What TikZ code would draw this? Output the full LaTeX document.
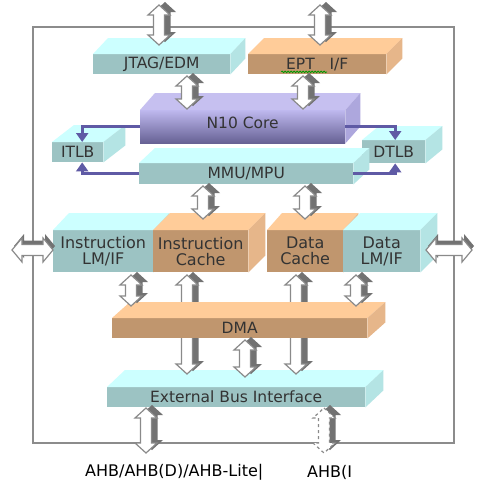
\documentclass[tikz,border=0pt]{standalone}
\usepackage{fontspec}
\setmainfont{DejaVu Sans}
\usetikzlibrary{arrows.meta,decorations.pathmorphing}
\definecolor{cyanF}{HTML}{9CC3C3}
\definecolor{cyanT}{HTML}{CCFFFF}
\definecolor{cyanS}{HTML}{B4E4E4}
\definecolor{orF}{HTML}{C0966E}
\definecolor{orT}{HTML}{FFCC99}
\definecolor{orS}{HTML}{E6B68A}
\definecolor{coreT}{HTML}{C6C0F0}
\definecolor{coreS}{HTML}{ADA7DD}
\definecolor{coreA}{HTML}{BEB8EE}
\definecolor{coreB}{HTML}{666194}
\definecolor{frameC}{HTML}{8C8C8C}
\definecolor{purpC}{HTML}{5F5AA5}
\definecolor{txtC}{HTML}{333333}
\definecolor{arrOut}{HTML}{8A8A8A}
\definecolor{arrSh}{HTML}{727272}
\newcommand\faces[5]{%
  \fill[#4] (#1.north west) -- ++(#2,-#3) -- ([shift={(#2,-#3)}]#1.north east) -- (#1.north east) -- cycle;
  \fill[#5] (#1.north east) -- ([shift={(#2,-#3)}]#1.north east) -- ([shift={(#2,-#3)}]#1.south east) -- (#1.south east) -- cycle;}
\newcommand\varrow[4][]{%
  \fill[arrSh,xshift=6pt,yshift=3pt] (#2,#3) -- (#2+11,#3+10) -- (#2+5.5,#3+10) -- (#2+5.5,#4-10) -- (#2+11,#4-10) -- (#2,#4) -- (#2-11,#4-10) -- (#2-5.5,#4-10) -- (#2-5.5,#3+10) -- (#2-11,#3+10) -- cycle;
  \filldraw[fill=white,draw=arrOut,line width=1.2pt,line join=miter,#1] (#2,#3) -- (#2+11,#3+10) -- (#2+5.5,#3+10) -- (#2+5.5,#4-10) -- (#2+11,#4-10) -- (#2,#4) -- (#2-11,#4-10) -- (#2-5.5,#4-10) -- (#2-5.5,#3+10) -- (#2-11,#3+10) -- cycle;}
\newcommand\harrow[3]{%
  \fill[arrSh,xshift=2pt,yshift=4pt] (#1,#3) -- (#1+10,#3-12) -- (#1+10,#3-5.5) -- (#2-10,#3-5.5) -- (#2-10,#3-12) -- (#2,#3) -- (#2-10,#3+12) -- (#2-10,#3+5.5) -- (#1+10,#3+5.5) -- (#1+10,#3+12) -- cycle;
  \filldraw[fill=white,draw=arrOut,line width=1.2pt] (#1,#3) -- (#1+10,#3-12) -- (#1+10,#3-5.5) -- (#2-10,#3-5.5) -- (#2-10,#3-12) -- (#2,#3) -- (#2-10,#3+12) -- (#2-10,#3+5.5) -- (#1+10,#3+5.5) -- (#1+10,#3+12) -- cycle;}
\tikzset{
  blk/.style={anchor=north west, inner sep=0pt, text=txtC, align=center,
    font=\fontsize{15.5}{16}\selectfont},
  cyanblk/.style={blk, fill=cyanF},
  orblk/.style={blk, fill=orF},
  rowblk/.style={font=\fontsize{16}{16}\selectfont},
  purp/.style={draw=purpC, line width=3pt, -{Triangle[width=12pt,length=9pt]}},
  lbl/.style={anchor=west, inner sep=0pt, text=black, font=\fontsize{16}{16}\selectfont}
}
\begin{document}
\begin{tikzpicture}[x=1pt,y=-1pt]
\useasboundingbox (0,0) rectangle (479,485);
\fill[white] (0,0) rectangle (479,485);
% frame
\draw[frameC, line width=2pt] (33,27) rectangle (454,443);
% JTAG / EPT
\node[cyanblk, minimum width=137pt, minimum height=20pt] (jtag) at (93,54) {JTAG/EDM};
\faces{jtag}{15}{16}{cyanT}{cyanS}
\node[orblk, minimum width=138pt, minimum height=20pt] (ept) at (248,54) {EPT~~~I/F};
\faces{ept}{16}{16}{orT}{orS}
\draw[green!60!black, line width=0.8pt, decorate, decoration={snake, amplitude=0.8pt, segment length=3pt}]
  ([shift={(-36,-2.5)}]ept.south) -- ([shift={(10,-2.5)}]ept.south);
\varrow{159}{5}{45}
\varrow{320}{5}{45}
% N10 core
\node[blk, top color=coreA, bottom color=coreB, minimum width=205pt, minimum height=33pt] (n10) at (140,110) {\raisebox{7pt}{N10 Core}};
\faces{n10}{15}{17}{coreT}{coreS}
\varrow{187}{76}{109}
\varrow{303}{76}{109}
% TLBs and MMU
\node[cyanblk, minimum width=51pt, minimum height=20pt] (itlb) at (52,142) {ITLB};
\faces{itlb}{22}{17}{cyanT}{cyanS}
\node[cyanblk, minimum width=63pt, minimum height=23pt] (dtlb) at (362,140) {DTLB};
\faces{dtlb}{17}{14}{cyanT}{cyanS}
\node[cyanblk, minimum width=214pt, minimum height=21pt] (mmu) at (139,163) {MMU/MPU};
\faces{mmu}{16}{15}{cyanT}{cyanS}
\draw[purp] (n10.west) -| ([xshift=4.5pt]itlb.north);
\draw[purp] (mmu.west) -| ([xshift=4.5pt]itlb.south);
\draw[purp] (n10.east) -| ([xshift=1.5pt]dtlb.north);
\draw[purp] (mmu.east) -| ([xshift=1.5pt]dtlb.south);
% memory row
\node[cyanblk, rowblk, minimum width=100pt, minimum height=42pt] (ilm) at (53,230) {Instruction\\LM/IF};
\faces{ilm}{16}{17}{cyanT}{cyanS}
\node[orblk, rowblk, minimum width=95pt, minimum height=42pt] (icache) at (153,230) {Instruction\\Cache};
\faces{icache}{17}{17}{orT}{orS}
\node[orblk, rowblk, minimum width=76pt, minimum height=42pt] (dcache) at (267,230) {Data\\Cache};
\faces{dcache}{15}{17}{orT}{orS}
\node[cyanblk, rowblk, minimum width=77pt, minimum height=42pt] (dlm) at (343,230) {Data\\LM/IF};
\faces{dlm}{17}{17}{cyanT}{cyanS}
\varrow{203}{186}{219}
\varrow{305}{186}{219}
\harrow{12}{53}{250}
\harrow{426}{472}{250}
% external bus interface
\node[cyanblk, minimum width=258pt, minimum height=20pt] (ebi) at (107,387) {External Bus Interface};
\faces{ebi}{18}{17}{cyanT}{cyanS}
\varrow{187}{275}{374}
\varrow{296}{275}{374}
% DMA
\node[orblk, minimum width=255pt, minimum height=20pt] (dma) at (112,318) {DMA};
\faces{dma}{18}{16}{orT}{orS}
\varrow{131}{275}{306}
\varrow{356}{275}{306}
\varrow{245}{340}{377}
% bottom
\varrow{146}{408}{453}
\varrow[dashed]{324}{408}{453}
\node[lbl] (ahb1) at (85,472) {AHB/AHB(D)/AHB-Lite|};
\node[lbl] (ahb2) at (307,472) {AHB(I};
\end{tikzpicture}
\end{document}
